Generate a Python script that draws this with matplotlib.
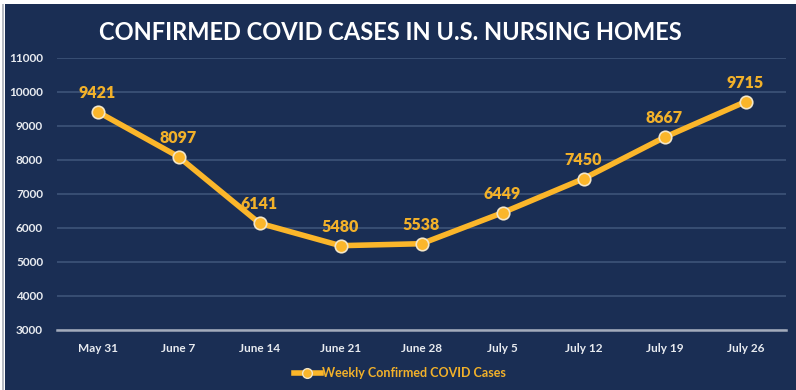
import matplotlib
matplotlib.use("Agg")
import matplotlib.pyplot as plt
from matplotlib.patches import Rectangle
from matplotlib.lines import Line2D

categories = ["May 31", "June 7", "June 14", "June 21", "June 28", "July 5", "July 12", "July 19", "July 26"]
cases = [9421, 8097, 6141, 5480, 5538, 6449, 7450, 8667, 9715]
yticks = [3000, 4000, 5000, 6000, 7000, 8000, 9000, 10000, 11000]
title = "CONFIRMED COVID CASES IN U.S. NURSING HOMES"
series_name = "Weekly Confirmed COVID Cases"

NAVY = "#1a2e54"
GOLD = "#fbb62a"
LABEL = "#f2b12a"
W, H = 796, 390

plt.rcParams["font.family"] = ["Lato", "DejaVu Sans"]

fig = plt.figure(figsize=(W / 100, H / 100), dpi=100)
fig.patch.set_facecolor("white")
fig.add_artist(Rectangle((5 / W, 0), 1 - 5 / W, 1 - 4 / H, transform=fig.transFigure,
                         facecolor=NAVY, edgecolor="none", zorder=0))
fig.add_artist(Rectangle((2 / W, 0), 2 / W, 1 - 4 / H, transform=fig.transFigure,
                         facecolor="#b8bcc4", edgecolor="none", zorder=0))

left, right = 57 / W, 786 / W
top, bottom = 1 - 58 / H, 1 - 330 / H
ax = fig.add_axes([left, bottom, right - left, top - bottom])
ax.set_facecolor(NAVY)
ax.patch.set_alpha(0)

x = list(range(len(categories)))
ax.plot(x, cases, color=GOLD, lw=4, solid_capstyle="round", zorder=3,
        marker="o", markersize=9, markerfacecolor=GOLD, markeredgecolor="#f3e6c8",
        markeredgewidth=1.2)
for xi, v in zip(x, cases):
    ax.annotate(f"{v}", (xi, v), xytext=(0, 8), textcoords="offset points",
                ha="center", va="bottom", color=LABEL, fontsize=11.5, fontweight="heavy")

ax.set_xlim(-0.5, len(categories) - 0.5)
ax.set_ylim(3000, 11000)
ax.set_yticks(yticks)
ax.set_yticklabels([str(t) for t in yticks])
ax.set_xticks(x)
ax.set_xticklabels(categories)
ax.grid(axis="y", color="#3d5479", lw=1.2)
ax.set_axisbelow(True)
for s in ["top", "right", "left"]:
    ax.spines[s].set_visible(False)
ax.spines["bottom"].set_color("#a3abbb")
ax.spines["bottom"].set_linewidth(1.8)
ax.tick_params(axis="both", length=0, colors="#e8ebf0", labelsize=8.5)
ax.tick_params(axis="y", pad=10)
ax.tick_params(axis="x", pad=9)
for lab in ax.get_xticklabels() + ax.get_yticklabels():
    lab.set_fontweight("bold")

fig.text(390 / W, 1 - 33 / H, title, ha="center", va="center", color="white",
         fontsize=17, fontweight="bold")

handle = Line2D([0], [0], color=GOLD, lw=4, marker="o", markersize=7,
                markerfacecolor=GOLD, markeredgecolor="#f3e6c8")
leg = fig.legend([handle], [series_name], loc="center", bbox_to_anchor=(400 / W, 1 - 373 / H),
                 frameon=False, fontsize=9, handlelength=2.2, handletextpad=0.1)
for t in leg.get_texts():
    t.set_color(LABEL)
    t.set_fontweight("bold")

fig.savefig("out.png", dpi=100, facecolor="white")
